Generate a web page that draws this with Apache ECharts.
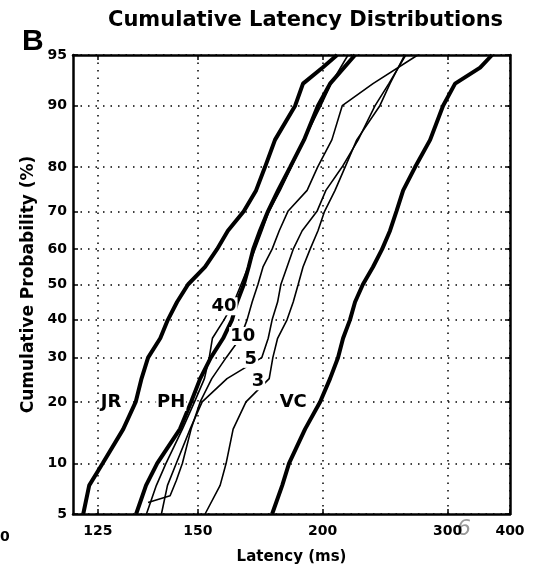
<!DOCTYPE html>
<html><head><meta charset="utf-8">
<script src="https://cdn.jsdelivr.net/npm/echarts@6/dist/echarts.min.js"></script>
<style>html,body{margin:0;padding:0;background:#fff}#c{width:551px;height:570px}</style>
</head><body><div id="c"></div>
<script>
// ---- data (latency in ms, cumulative probability in %) ----
const xTickLabels = [125, 150, 200, 300, 400];
const yTickLabels = [5, 10, 20, 30, 40, 50, 60, 70, 80, 90, 95];

const jrPercent = [5, 7.5, 10, 15, 20, 25, 30, 35, 40, 45, 50, 55, 60, 65, 70, 75, 80, 85, 90, 92.5, 94, 95];
const jrLatency = [122.0, 123.2, 126.0, 130.5, 133.4, 134.8, 136.4, 139.5, 141.5, 144.0, 147.1, 152.2, 156.0, 159.6, 165.2, 169.8, 173.3, 177.4, 186.3, 190.0, 200.0, 208.0];

const phPercent = [5, 7.5, 10, 15, 20, 25, 30, 35, 40, 45, 50, 55, 60, 65, 70, 75, 80, 85, 90, 92.5, 95];
const phLatency = [133.5, 135.9, 138.7, 144.8, 148.0, 150.7, 154.0, 158.0, 161.0, 162.8, 165.2, 167.0, 168.7, 171.3, 174.5, 178.7, 184.0, 190.5, 197.5, 204.0, 218.9];

const c40Percent = [5, 7.5, 10, 15, 20, 25, 30, 35, 40, 45, 50, 55, 60, 65, 70, 75, 80, 85, 90, 92.5, 95];
const c40Latency = [136.0, 138.5, 141.0, 145.5, 149.0, 152.0, 153.5, 154.5, 158.3, 161.7, 164.2, 166.8, 169.4, 172.1, 174.9, 179.6, 184.5, 190.5, 199.0, 204.6, 214.5];

const c10Percent = [5.9, 6.5, 8, 10, 15, 20, 25, 30, 35, 40, 45, 50, 55, 60, 65, 70, 75, 80, 85, 90, 92.5, 95];
const c10Latency = [136.4, 142.1, 143.8, 145.5, 148.0, 150.7, 154.3, 159.0, 163.9, 166.4, 168.3, 170.5, 172.5, 176.2, 179.2, 183.0, 192.0, 197.3, 205.0, 211.0, 231.0, 268.0];

const c5Percent = [5, 7.5, 10, 15, 20, 25, 30, 35, 40, 45, 50, 55, 60, 65, 70, 75, 80, 85, 90, 92.5, 95];
const c5Latency = [139.8, 141.4, 143.8, 147.7, 151.3, 159.3, 172.0, 174.6, 176.2, 178.5, 179.9, 182.6, 185.4, 189.6, 197.0, 201.7, 210.9, 220.9, 232.5, 242.9, 257.0];

const c3Percent = [5, 7.5, 10, 15, 20, 25, 30, 35, 40, 45, 50, 55, 60, 65, 70, 75, 80, 85, 90, 92.5, 95];
const c3Latency = [152.2, 157.0, 159.0, 161.4, 166.0, 175.0, 176.5, 178.5, 182.6, 185.4, 187.7, 190.0, 193.5, 197.5, 201.0, 206.8, 212.7, 220.0, 236.0, 243.8, 256.0];

const vcPercent = [5, 7.5, 10, 15, 20, 25, 30, 35, 40, 45, 50, 55, 60, 65, 70, 75, 80, 85, 90, 92.5, 94, 95];
const vcLatency = [176.2, 180.5, 183.5, 191.0, 198.6, 204.0, 208.5, 211.5, 215.7, 218.9, 224.0, 231.0, 237.7, 243.8, 249.0, 254.7, 265.5, 280.4, 294.7, 309.3, 345.0, 365.0];

const labelNames = ['JR', 'PH', '40', '10', '5', '3', 'VC'];
const labelLatency = [127.8, 142.4, 158.3, 164.8, 167.8, 170.5, 185.4];
const labelPercent = [20, 20, 43.8, 35.6, 29.7, 24.4, 20];

// ---- scales: reciprocal latency on x, probit on y ----
function probit(p) {
  const a=[-3.969683028665376e+01,2.209460984245205e+02,-2.759285104469687e+02,1.383577518672690e+02,-3.066479806614716e+01,2.506628277459239e+00];
  const b=[-5.447609879822406e+01,1.615858368580409e+02,-1.556989798598866e+02,6.680131188771972e+01,-1.328068155288572e+01];
  const c=[-7.784894002430293e-03,-3.223964580411365e-01,-2.400758277161838e+00,-2.549732539343734e+00,4.374664141464968e+00,2.938163982698783e+00];
  const d=[7.784695709041462e-03,3.224671290700398e-01,2.445134137142996e+00,3.754408661907416e+00];
  const pl=0.02425, ph=1-pl;
  if (p<pl){const q=Math.sqrt(-2*Math.log(p));return (((((c[0]*q+c[1])*q+c[2])*q+c[3])*q+c[4])*q+c[5])/((((d[0]*q+d[1])*q+d[2])*q+d[3])*q+1);}
  if (p<=ph){const q=p-0.5,r=q*q;return (((((a[0]*r+a[1])*r+a[2])*r+a[3])*r+a[4])*r+a[5])*q/(((((b[0]*r+b[1])*r+b[2])*r+b[3])*r+b[4])*r+1);}
  const q=Math.sqrt(-2*Math.log(1-p));return -(((((c[0]*q+c[1])*q+c[2])*q+c[3])*q+c[4])*q+c[5])/((((d[0]*q+d[1])*q+d[2])*q+d[3])*q+1);
}
const tx = L => -1000 / L;
const ty = P => probit(P / 100);
const pts = (lat, per) => lat.map((L, i) => [tx(L), ty(per[i])]);

const xMin = tx(120), xMax = tx(400);
const yMin = ty(5), yMax = ty(95);
const xTickVals = xTickLabels.map(tx);
const yTickVals = yTickLabels.map(ty);

const FONT = '"DejaVu Sans", sans-serif';
const fmtX = v => { let best = 0; xTickVals.forEach((t, i) => { if (Math.abs(t - v) < Math.abs(xTickVals[best] - v)) best = i; }); return String(xTickLabels[best]); };
const fmtY = v => { let best = 0; yTickVals.forEach((t, i) => { if (Math.abs(t - v) < Math.abs(yTickVals[best] - v)) best = i; }); return String(yTickLabels[best]); };

const gridDots = { show: true, lineStyle: { color: '#000', width: 1.5, type: [1.5, 6] } };
const frame = { show: true, onZero: false, lineStyle: { color: '#000', width: 2.5 } };
const tick = vals => ({ show: true, inside: true, length: 5, customValues: vals, lineStyle: { color: '#000', width: 1.5 } });

const thick = { color: '#000', width: 4 };
const thin = { color: '#000', width: 1.6 };
function lineSeries(name, lat, per, style) {
  return { name, type: 'line', data: pts(lat, per), showSymbol: false, symbol: 'none', lineStyle: style, itemStyle: { color: '#000' }, clip: true, silent: true, z: 3 };
}

const chart = echarts.init(document.getElementById('c'), null, { renderer: 'canvas' });
chart.setOption({
  animation: false,
  backgroundColor: '#fff',
  title: {
    text: 'Cumulative Latency Distributions', left: 103, top: 5,
    textStyle: { fontFamily: FONT, fontWeight: 'bold', fontSize: 21, color: '#000' }
  },
  grid: { left: 73, top: 55, right: 41, bottom: 51, containLabel: false },
  xAxis: [{
    type: 'value', min: xMin, max: xMax, position: 'bottom',
    axisLine: frame, axisTick: tick(xTickVals), splitLine: gridDots,
    axisLabel: { customValues: xTickVals, formatter: fmtX, color: '#000', fontFamily: FONT, fontWeight: 'bold', fontSize: 14, margin: 10 },
    name: 'Latency (ms)', nameLocation: 'middle', nameGap: 36,
    nameTextStyle: { fontFamily: FONT, fontWeight: 'bold', fontSize: 15, color: '#000' }
  }, {
    type: 'value', min: xMin, max: xMax, position: 'top',
    axisLine: frame, axisTick: tick(xTickVals), splitLine: { show: false },
    axisLabel: { show: false }
  }],
  yAxis: [{
    type: 'value', min: yMin, max: yMax, position: 'left',
    axisLine: frame, axisTick: tick(yTickVals), splitLine: gridDots,
    axisLabel: { customValues: yTickVals, formatter: fmtY, color: '#000', fontFamily: FONT, fontWeight: 'bold', fontSize: 14, margin: 6 },
    name: 'Cumulative Probability (%)', nameLocation: 'middle', nameGap: 36, nameRotate: 90,
    nameTextStyle: { fontFamily: FONT, fontWeight: 'bold', fontSize: 17, color: '#000' }
  }, {
    type: 'value', min: yMin, max: yMax, position: 'right',
    axisLine: frame, axisTick: tick(yTickVals), splitLine: { show: false },
    axisLabel: { show: false }
  }],
  series: [
    lineSeries('JR', jrLatency, jrPercent, thick),
    lineSeries('PH', phLatency, phPercent, thick),
    lineSeries('40', c40Latency, c40Percent, thin),
    lineSeries('10', c10Latency, c10Percent, thin),
    lineSeries('5', c5Latency, c5Percent, thin),
    lineSeries('3', c3Latency, c3Percent, thin),
    lineSeries('VC', vcLatency, vcPercent, thick),
    {
      type: 'scatter', symbolSize: 0, silent: true, z: 5,
      itemStyle: { opacity: 1, color: '#000' },
      data: labelNames.map((n, i) => ({ value: [tx(labelLatency[i]), ty(labelPercent[i])], name: n })),
      label: {
        show: true, position: 'inside', formatter: p => p.name,
        fontFamily: FONT, fontWeight: 'bold', fontSize: 18, color: '#000', opacity: 1,
        textBorderWidth: 0, backgroundColor: '#fff', padding: [0, 1]
      }
    }
  ],
  graphic: [
    { type: 'text', left: 22, top: 27, style: { text: 'B', fontFamily: '"Liberation Sans", sans-serif', fontWeight: 'bold', fontSize: 30, fill: '#000' } },
    { type: 'text', left: 0, top: 530, style: { text: '0', fontFamily: FONT, fontWeight: 'bold', fontSize: 14, fill: '#000' } },
    { type: 'text', left: 457, top: 518, style: { text: '6', fontFamily: '"DejaVu Sans", sans-serif', fontStyle: 'italic', fontSize: 22, fill: '#9a9a9a' } }
  ]
});
</script>
</body></html>
